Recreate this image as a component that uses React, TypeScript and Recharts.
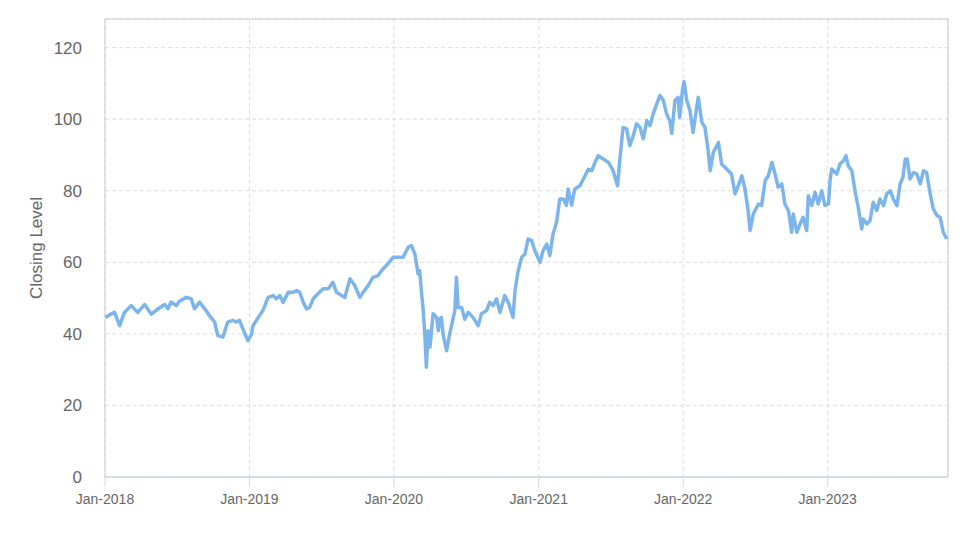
import {
  LineChart,
  Line,
  XAxis,
  YAxis,
  CartesianGrid,
  ReferenceArea,
} from "recharts";

// closing levels, grouped by year
const dates2018 = ["2018-01-02", "2018-01-12", "2018-01-25", "2018-02-07", "2018-02-19", "2018-03-08", "2018-03-25", "2018-04-11", "2018-04-28", "2018-05-15", "2018-06-01", "2018-06-09", "2018-06-17", "2018-06-30", "2018-07-08", "2018-07-25", "2018-08-07", "2018-08-15", "2018-08-28", "2018-09-10", "2018-09-22", "2018-10-05", "2018-10-13", "2018-10-26", "2018-11-07", "2018-11-20", "2018-11-29", "2018-12-07", "2018-12-15", "2018-12-28"];
const close2018 = [44.6, 45.3, 46.0, 42.3, 46.0, 47.9, 46.0, 48.2, 45.5, 47.0, 48.2, 47.0, 48.9, 47.9, 49.1, 50.2, 49.8, 47.0, 48.9, 47.0, 45.1, 43.3, 39.5, 39.1, 43.3, 43.8, 43.3, 43.8, 41.5, 38.1];

const dates2019 = ["2019-01-06", "2019-01-10", "2019-01-19", "2019-01-23", "2019-02-04", "2019-02-17", "2019-03-02", "2019-03-10", "2019-03-19", "2019-03-27", "2019-04-09", "2019-04-21", "2019-04-30", "2019-05-08", "2019-05-17", "2019-05-25", "2019-06-02", "2019-06-11", "2019-06-23", "2019-07-06", "2019-07-19", "2019-07-31", "2019-08-09", "2019-08-22", "2019-08-30", "2019-09-12", "2019-09-24", "2019-10-07", "2019-10-15", "2019-10-28", "2019-11-09", "2019-11-22", "2019-12-01", "2019-12-13", "2019-12-30"];
const close2019 = [39.9, 42.3, 43.8, 44.6, 46.5, 50.2, 50.7, 49.8, 50.7, 48.8, 51.6, 51.6, 52.1, 51.6, 48.8, 47.0, 47.4, 49.8, 51.2, 52.6, 52.6, 54.4, 51.6, 50.7, 50.2, 55.4, 53.5, 50.2, 51.6, 53.5, 55.8, 56.3, 57.7, 59.1, 61.4];

const dates2020 = ["2020-01-08", "2020-01-24", "2020-02-06", "2020-02-14", "2020-02-23", "2020-02-27", "2020-03-02", "2020-03-06", "2020-03-11", "2020-03-15", "2020-03-19", "2020-03-23", "2020-03-27", "2020-04-01", "2020-04-05", "2020-04-09", "2020-04-18", "2020-04-22", "2020-04-26", "2020-04-30", "2020-05-04", "2020-05-13", "2020-05-21", "2020-05-30", "2020-06-03", "2020-06-07", "2020-06-11", "2020-06-20", "2020-06-28", "2020-07-07", "2020-07-19", "2020-08-01", "2020-08-09", "2020-08-22", "2020-08-30", "2020-09-08", "2020-09-16", "2020-09-25", "2020-10-07", "2020-10-16", "2020-10-28", "2020-11-02", "2020-11-10", "2020-11-19", "2020-11-27", "2020-12-05", "2020-12-14", "2020-12-22"];
const close2020 = [61.4, 61.4, 64.2, 64.7, 62.3, 59.6, 56.8, 57.7, 51.2, 46.5, 40.0, 30.7, 40.9, 36.3, 40.9, 45.6, 44.6, 40.9, 44.1, 44.6, 40.0, 35.3, 40.0, 44.6, 46.5, 55.8, 47.4, 47.4, 44.1, 46.0, 44.6, 42.3, 45.6, 46.5, 48.8, 47.9, 49.8, 46.0, 50.7, 48.8, 44.6, 52.1, 57.7, 61.4, 62.3, 66.5, 66.1, 63.3];

const dates2021 = ["2021-01-04", "2021-01-12", "2021-01-21", "2021-01-29", "2021-02-06", "2021-02-15", "2021-02-23", "2021-03-04", "2021-03-12", "2021-03-16", "2021-03-25", "2021-04-02", "2021-04-15", "2021-04-28", "2021-05-06", "2021-05-15", "2021-05-23", "2021-05-31", "2021-06-13", "2021-06-26", "2021-07-08", "2021-07-19", "2021-07-25", "2021-08-02", "2021-08-11", "2021-08-19", "2021-08-28", "2021-09-05", "2021-09-14", "2021-09-22", "2021-10-01", "2021-10-09", "2021-10-17", "2021-10-26", "2021-11-03", "2021-11-12", "2021-11-20", "2021-11-28", "2021-12-03", "2021-12-11", "2021-12-19", "2021-12-23", "2021-12-30"];
const close2021 = [60.0, 63.3, 65.1, 61.9, 67.9, 71.2, 77.7, 77.7, 75.9, 80.5, 76.0, 80.5, 81.4, 84.2, 86.0, 85.6, 87.9, 89.8, 88.9, 87.9, 85.6, 81.4, 88.9, 97.7, 97.3, 92.6, 95.5, 98.7, 97.7, 94.5, 99.6, 98.2, 101.5, 104.2, 106.6, 105.2, 101.5, 99.6, 96.0, 105.2, 106.1, 100.5, 108.0];

const dates2022 = ["2022-01-03", "2022-01-10", "2022-01-18", "2022-01-26", "2022-02-04", "2022-02-08", "2022-02-17", "2022-02-25", "2022-03-05", "2022-03-10", "2022-03-18", "2022-03-31", "2022-04-08", "2022-04-17", "2022-04-25", "2022-05-03", "2022-05-12", "2022-05-20", "2022-05-29", "2022-06-06", "2022-06-14", "2022-06-19", "2022-06-27", "2022-07-10", "2022-07-18", "2022-07-27", "2022-08-04", "2022-08-13", "2022-08-21", "2022-08-29", "2022-09-07", "2022-09-15", "2022-09-24", "2022-10-02", "2022-10-06", "2022-10-15", "2022-10-23", "2022-10-31", "2022-11-09", "2022-11-13", "2022-11-22", "2022-11-30", "2022-12-08", "2022-12-17", "2022-12-25"];
const close2022 = [110.5, 105.2, 102.4, 96.3, 103.3, 106.1, 99.1, 97.7, 91.2, 85.6, 90.7, 93.5, 87.5, 86.5, 85.6, 84.7, 79.1, 81.4, 84.2, 80.5, 74.4, 68.9, 73.5, 76.3, 75.9, 82.8, 84.2, 87.9, 84.7, 81.0, 81.9, 76.3, 74.4, 68.4, 73.5, 68.4, 70.7, 72.6, 68.9, 78.6, 75.9, 79.6, 76.3, 80.0, 75.9];

const dates2023 = ["2023-01-03", "2023-01-07", "2023-01-11", "2023-01-24", "2023-02-01", "2023-02-10", "2023-02-16", "2023-02-22", "2023-03-03", "2023-03-11", "2023-03-20", "2023-03-28", "2023-04-01", "2023-04-10", "2023-04-18", "2023-04-26", "2023-05-05", "2023-05-13", "2023-05-22", "2023-05-30", "2023-06-08", "2023-06-16", "2023-06-25", "2023-07-03", "2023-07-10", "2023-07-16", "2023-07-21", "2023-07-28", "2023-08-06", "2023-08-14", "2023-08-23", "2023-08-31", "2023-09-08", "2023-09-17", "2023-09-25", "2023-10-04", "2023-10-12", "2023-10-20", "2023-10-29"];
const close2023 = [76.3, 82.8, 86.1, 84.7, 87.5, 88.4, 89.8, 87.0, 85.6, 80.0, 74.9, 69.3, 72.1, 70.7, 71.6, 76.8, 74.5, 77.7, 75.8, 79.1, 80.0, 77.7, 75.8, 81.9, 83.7, 88.9, 88.9, 83.3, 85.1, 84.7, 81.9, 85.6, 85.1, 79.1, 74.9, 73.1, 72.6, 68.4, 66.5];

const yearTicks = ["2018-01-01", "2019-01-01", "2020-01-01", "2021-01-01", "2022-01-01", "2023-01-01"];
const yTicks = [0, 20, 40, 60, 80, 100, 120];
const yLabel = "Closing Level";

const toTime = (d: string) => new Date(d + "T00:00:00Z").getTime();

const allDates = [...dates2018, ...dates2019, ...dates2020, ...dates2021, ...dates2022, ...dates2023];
const allClose = [...close2018, ...close2019, ...close2020, ...close2021, ...close2022, ...close2023];
const data = allDates.map((d, i) => ({ t: toTime(d), close: allClose[i] }));

const xStart = toTime("2018-01-01");
const xEnd = toTime("2023-11-01");
const yMax = 128;

const font = "'Liberation Sans', Arial, sans-serif";

export default function App() {
  return (
    <div style={{ position: "absolute", left: 0, top: 0, background: "#fff" }}>
      <LineChart
        width={974}
        height={547}
        data={data}
        margin={{ top: 19, right: 26, left: 0, bottom: 40 }}
        style={{ fontFamily: font }}
      >
        <CartesianGrid stroke="#dddddd" strokeDasharray="4 3" />
        <ReferenceArea
          x1={xStart}
          x2={xEnd}
          y1={0}
          y2={yMax}
          fill="none"
          stroke="#cccccc"
          strokeWidth={1}
        />
        <XAxis
          dataKey="t"
          type="number"
          domain={[xStart, xEnd]}
          ticks={yearTicks.map(toTime)}
          interval={0}
          tickFormatter={(t: number) => `Jan-${new Date(t).getUTCFullYear()}`}
          stroke="#ccd6eb"
          tickSize={10}
          tickMargin={7}
          height={30}
          tick={{ fill: "#666666", fontSize: 14 }}
        />
        <YAxis
          type="number"
          domain={[0, yMax]}
          ticks={yTicks}
          interval={0}
          width={105}
          axisLine={false}
          tickLine={false}
          tickSize={0}
          tickMargin={23}
          tick={{ fill: "#666666", fontSize: 17 }}
          label={{
            value: yLabel,
            angle: -90,
            position: "insideLeft",
            offset: 36,
            fill: "#666666",
            fontSize: 17,
            style: { textAnchor: "middle" },
          }}
        />
        <Line
          type="linear"
          dataKey="close"
          stroke="#7cb5ec"
          strokeWidth={3.5}
          strokeLinejoin="round"
          dot={false}
          isAnimationActive={false}
        />
      </LineChart>
    </div>
  );
}
